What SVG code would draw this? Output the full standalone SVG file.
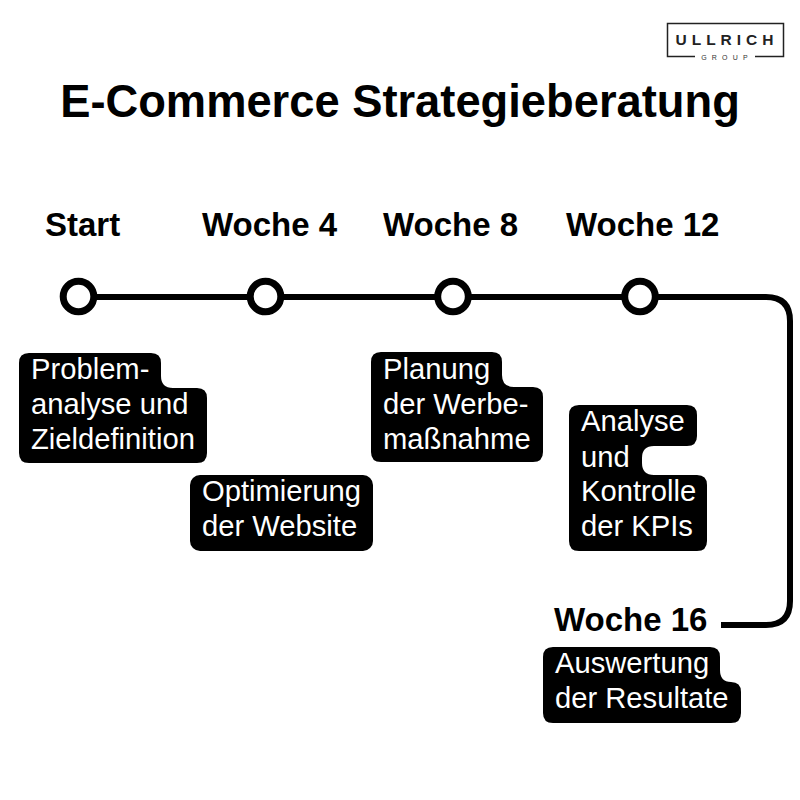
<svg xmlns="http://www.w3.org/2000/svg" width="800" height="800" viewBox="0 0 800 800">
<style>
text{font-family:"Liberation Sans",Arial,sans-serif}
.title{font-size:45.300px;font-weight:700;fill:#000}
.wk{font-size:33px;font-weight:700;fill:#000}
.lb{font-size:29.200px;fill:#fff}
.box{fill:#000}
.dot{fill:#fff;stroke:#000;stroke-width:7}
.line{fill:none;stroke:#000;stroke-width:6}
</style>
<rect width="800" height="800" fill="#fff"/>
<g id="logo">
<path d="M695 56.500H667.500V23.500H783.500V56.500H755" fill="none" stroke="#222" stroke-width="1.500"/>
<text x="727" y="45" text-anchor="middle" font-size="15.500" font-weight="700" letter-spacing="5" fill="#222">ULLRICH</text>
<text x="727" y="59.500" text-anchor="middle" font-size="7" letter-spacing="5.200" fill="#333">GROUP</text>
</g>
<text id="title" class="title" x="400" y="117" text-anchor="middle">E-Commerce Strategieberatung</text>
<g id="connectors">
<path class="line" d="M78 297H766Q790 297 790 321V601Q790 625 766 625H721"/>
</g>
<g id="start"><circle class="dot" cx="78.500" cy="296.500" r="15.300"/><text class="wk" x="45" y="236">Start</text>
<path class="box" d="M29 353H151Q161 353 161 363V376Q161 388 173 388H197Q207 388 207 398V453Q207 463 197 463H29Q19 463 19 453V363Q19 353 29 353Z"/>
<text class="lb" x="31" y="379">Problem-</text><text class="lb" x="31" y="414">analyse und</text><text class="lb" x="31" y="449">Zieldefinition</text></g>
<g id="woche4"><circle class="dot" cx="265.500" cy="296.500" r="15.300"/><text class="wk" x="202" y="236">Woche 4</text>
<rect class="box" x="190" y="475" width="183" height="76" rx="10"/>
<text class="lb" x="202" y="501">Optimierung</text><text class="lb" x="202" y="536">der Website</text></g>
<g id="woche8"><circle class="dot" cx="453" cy="296.500" r="15.300"/><text class="wk" x="383" y="236">Woche 8</text>
<path class="box" d="M381 352H492Q502 352 502 362V375Q502 387 514 387H533Q543 387 543 397V452Q543 462 533 462H381Q371 462 371 452V362Q371 352 381 352Z"/>
<text class="lb" x="383" y="379">Planung</text><text class="lb" x="383" y="414">der Werbe-</text><text class="lb" x="383" y="449">maßnahme</text></g>
<g id="woche12"><circle class="dot" cx="640" cy="296.500" r="15.300"/><text class="wk" x="566" y="236">Woche 12</text>
<path class="box" d="M579 405H687Q697 405 697 415V436Q697 446 687 446H654Q642 446 642 458V463Q642 475 654 475H697Q707 475 707 485V541Q707 551 697 551H579Q569 551 569 541V415Q569 405 579 405Z"/>
<text class="lb" x="581" y="431">Analyse</text><text class="lb" x="581" y="467">und</text><text class="lb" x="581" y="501">Kontrolle</text><text class="lb" x="581" y="536">der KPIs</text></g>
<g id="woche16"><text class="wk" x="554" y="631">Woche 16</text>
<path class="box" d="M553 647H710Q720 647 720 657V670Q720 682 731 682Q741 682 741 692V713Q741 723 731 723H553Q543 723 543 713V657Q543 647 553 647Z"/>
<text class="lb" x="555" y="673">Auswertung</text><text class="lb" x="555" y="708">der Resultate</text></g>
</svg>
